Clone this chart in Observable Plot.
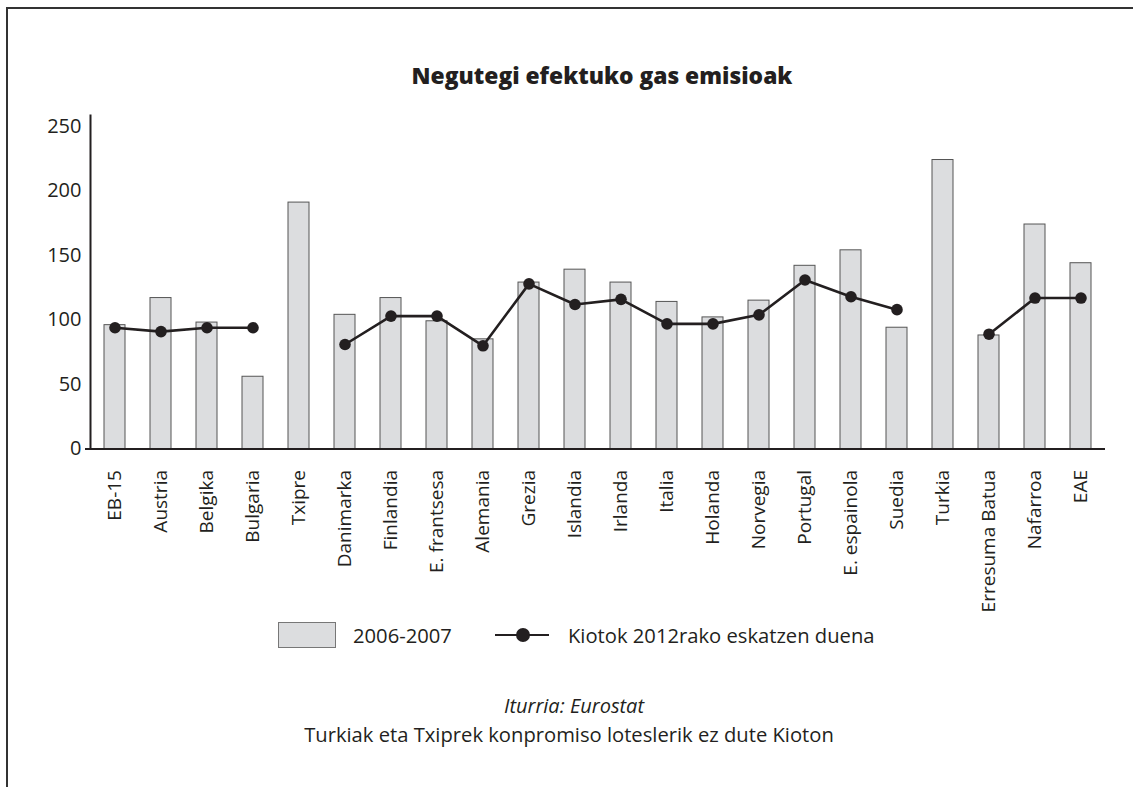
<!DOCTYPE html>
<html>
<head>
<meta charset="utf-8">
<script src="https://cdn.jsdelivr.net/npm/d3@7"></script>
<script src="https://cdn.jsdelivr.net/npm/@observablehq/plot@0.6"></script>
<style>
  html, body { margin: 0; padding: 0; background: #fff; }
  body { width: 1133px; height: 787px; position: relative; overflow: hidden; font-family: "Open Sans", sans-serif; color: #231f20; }
  #frame { position: absolute; left: 6px; top: 7px; right: -10px; bottom: -10px; border-top: 2px solid #333; border-left: 2px solid #333; }
  #chart { position: absolute; left: 0; top: 0; }
  .abs { position: absolute; white-space: nowrap; }
  #title { left: 602px; top: 60px; transform: translateX(-50%); font-weight: 800; font-size: 22.8px; }
  #legend { left: 0; top: 622px; width: 1133px; height: 26px; }
  .sw { position: absolute; left: 278px; top: 0; width: 58px; height: 26px; background: #dcdddf; border: 1px solid #777; box-sizing: border-box; }
  .lt { position: absolute; top: 0; font-size: 20.2px; line-height: 26px; }
  #src { left: 574px; top: 692px; transform: translateX(-50%); font-style: italic; font-size: 20px; }
  #note { left: 569px; top: 720px; transform: translateX(-50%); font-size: 20.2px; }
</style>
</head>
<body>
<div id="frame"></div>
<div id="chart"></div>
<div id="title" class="abs">Negutegi efektuko gas emisioak</div>
<div id="legend" class="abs">
  <div class="sw"></div>
  <div class="lt" style="left:353px">2006-2007</div>
  <svg style="position:absolute;left:490px;top:0" width="64" height="26">
    <line x1="5" y1="13" x2="59" y2="13" stroke="#231f20" stroke-width="2"></line>
    <circle cx="33" cy="13" r="7" fill="#231f20"></circle>
  </svg>
  <div class="lt" style="left:568px">Kiotok 2012rako eskatzen duena</div>
</div>
<div id="src" class="abs">Iturria: Eurostat</div>
<div id="note" class="abs">Turkiak eta Txiprek konpromiso loteslerik ez dute Kioton</div>
<script>
const categories = ["EB-15","Austria","Belgika","Bulgaria","Txipre","Danimarka","Finlandia","E. frantsesa","Alemania","Grezia","Islandia","Irlanda","Italia","Holanda","Norvegia","Portugal","E. espainola","Suedia","Turkia","Erresuma Batua","Nafarroa","EAE"];
const emissions2006_2007 = [96, 117, 98, 56, 191, 104, 117, 99, 85, 129, 139, 129, 114, 102, 115, 142, 154, 94, 224, 88, 174, 144];
const kyoto2012 = [94, 91, 94, 94, null, 81, 103, 103, 80, 128, 112, 116, 97, 97, 104, 131, 118, 108, null, 89, 117, 117];
const yTicks = [0, 50, 100, 150, 200, 250];

const data = categories.map((c, i) => ({cat: c, v: emissions2006_2007[i], k: kyoto2012[i]}));

const H = 620;
const chart = Plot.plot({
  width: 1133,
  height: H,
  marginLeft: 90,
  marginRight: 28,
  marginTop: 115,
  marginBottom: H - 448.5,
  style: {fontFamily: "Open Sans, sans-serif", color: "#231f20", background: "transparent", overflow: "visible"},
  x: {domain: categories, paddingInner: 0.534, paddingOuter: 0.267, label: null},
  y: {domain: [0, 258.5], label: null},
  marks: [
    Plot.barY(data, {x: "cat", y: "v", fill: "#dcdddf", stroke: "#555", strokeWidth: 1}),
    Plot.ruleY([0], {stroke: "#231f20", strokeWidth: 2}),
    Plot.frame({anchor: "left", stroke: "#231f20", strokeWidth: 2}),
    Plot.axisY({ticks: [0], tickSize: 5, tickFormat: () => "", stroke: "#231f20", strokeWidth: 2}),
    Plot.axisY({ticks: yTicks, tickSize: 0, tickPadding: 9, fontSize: 20, fill: "#231f20"}),
    Plot.axisX({tickSize: 0, tickRotate: -90, tickPadding: 21, fontSize: 19, fill: "#231f20"}),
    Plot.lineY(data, {x: "cat", y: "k", stroke: "#231f20", strokeWidth: 2.6}),
    Plot.dot(data.filter(d => d.k != null), {x: "cat", y: "k", r: 5.8, fill: "#231f20", stroke: "none"})
  ]
});
document.getElementById("chart").appendChild(chart);
</script>
</body>
</html>
